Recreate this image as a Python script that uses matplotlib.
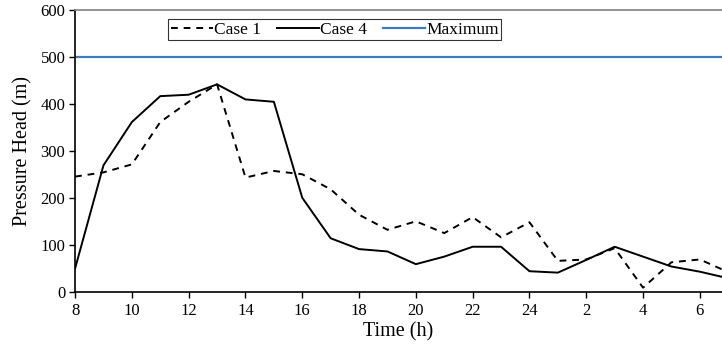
import matplotlib
matplotlib.use('Agg')
from matplotlib import pyplot as plt

plt.rcParams['font.family'] = ['Liberation Serif', 'DejaVu Serif']

# 时间（小时，跨过午夜后继续累加）
hours = [8, 9, 10, 11, 12, 13, 14, 15, 16, 17, 18, 19, 20, 21, 22, 23, 24,
         25, 26, 27, 28, 29, 30, 31]
case1 = [245, 254, 271, 361, 404, 441, 243, 257, 250, 218, 164, 132, 150,
         125, 159, 116, 148, 66, 69, 93, 9, 63, 69, 42]
case4 = [50, 269, 361, 416, 419, 441, 409, 404, 200, 114, 91, 86, 59, 75,
         96, 96, 44, 41, 68, 96, 75, 54, 43, 29]
maximum = 500

tick_pos = [8, 10, 12, 14, 16, 18, 20, 22, 24, 26, 28, 30]
tick_lab = ['8', '10', '12', '14', '16', '18', '20', '22', '24', '2', '4', '6']

fig = plt.figure(figsize=(7.22, 3.53), dpi=100)
ax = fig.add_axes([0.104, 0.173, 0.896, 0.8])

ax.plot(hours, case1, '--', color='black', lw=1.4, dashes=(3.5, 3), label='Case 1')
ax.plot(hours, case4, '-', color='black', lw=1.4, label='Case 4')
ax.axhline(maximum, color='#3a7ebf', lw=1.6, label='Maximum')

ax.set_xlim(8, 30.78)
ax.set_ylim(0, 600)
ax.set_xticks(tick_pos)
ax.set_xticklabels(tick_lab)
ax.set_yticks(range(0, 601, 100))
ax.tick_params(labelsize=12, direction='out', length=4, width=1)
ax.tick_params(axis='x', pad=4)
ax.tick_params(axis='y', pad=3)

ax.spines['right'].set_visible(False)
ax.spines['top'].set_color('#808080')
ax.spines['top'].set_linewidth(1.2)
ax.spines['left'].set_linewidth(1.2)
ax.spines['bottom'].set_linewidth(1.2)

ax.set_xlabel('Time (h)', fontsize=14.5, labelpad=2)
ax.set_ylabel('Pressure Head (m)', fontsize=14.5, labelpad=6)

leg = ax.legend(loc='upper left', bbox_to_anchor=(0.144, 0.967), ncol=3,
                fontsize=12.5, frameon=True, fancybox=False, handlelength=2.4,
                handletextpad=0.1, columnspacing=0.9, borderpad=0.15,
                borderaxespad=0)
leg.get_frame().set_edgecolor('black')
leg.get_frame().set_linewidth(0.8)

plt.savefig('out.png', dpi=100)
